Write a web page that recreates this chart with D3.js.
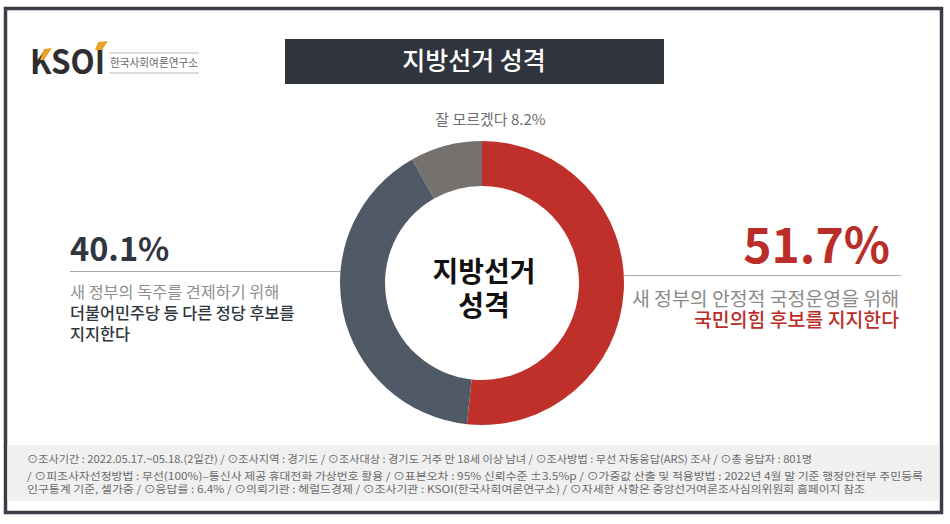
<!DOCTYPE html>
<html>
<head>
<meta charset="utf-8">
<script src="https://cdn.jsdelivr.net/npm/d3@7"></script>
<style>
html, body { margin: 0; padding: 0; background: #fff; }
svg { display: block; }
text { font-family: "Noto Sans CJK KR", "Noto Sans", sans-serif; }
</style>
</head>
<body>
<svg id="chart" width="950" height="524"></svg>
<script>
const labels = ["국민의힘 후보 지지", "다른 정당 후보 지지", "잘 모르겠다"];
const values = [51.7, 40.1, 8.2];
const colors = ["#c0302a", "#505a66", "#75716e"];

const footerLines = [
    "⊙조사기간 : 2022.05.17.~05.18.(2일간)  / ⊙조사지역 : 경기도 / ⊙조사대상 : 경기도 거주 만 18세 이상 남녀 / ⊙조사방법 : 무선 자동응답(ARS)  조사 / ⊙총 응답자 : 801명",
    "/ ⊙피조사자선정방법 : 무선(100%)–통신사 제공 휴대전화 가상번호 활용 / ⊙표본오차 : 95% 신뢰수준 ±3.5%p / ⊙가중값 산출 및 적용방법 : 2022년 4월 말 기준 행정안전부 주민등록",
    "인구통계 기준, 셀가중 / ⊙응답률 : 6.4% / ⊙의뢰기관 : 헤럴드경제  / ⊙조사기관 : KSOI(한국사회여론연구소) / ⊙자세한 사항은 중앙선거여론조사심의위원회 홈페이지 참조"
];
const footerWidths = [785, 896, 838];

const svg = d3.select("#chart");

// frame and footer band
svg.append("rect").attr("x", 5.5).attr("y", 8.5).attr("width", 936).attr("height", 504)
    .attr("fill", "#fff").attr("stroke", "#3a3f47").attr("stroke-width", 3.5);
svg.append("rect").attr("x", 7.5).attr("y", 445).attr("width", 932).attr("height", 56).attr("fill", "#f0f0f0");

// logo
const logo = svg.append("g");
logo.append("text").attr("x", 30).attr("y", 74).attr("font-size", 33).attr("font-weight", 700)
    .attr("fill", "#2e2e30").attr("textLength", 75).attr("lengthAdjust", "spacingAndGlyphs").text("KSOI");
logo.append("path").attr("d", "M44 49 L52 48 L44 60 L40 60 Z").attr("fill", "#e8a32e");
logo.append("path").attr("d", "M98 42 L108 41 L102 50 L95 50 Z").attr("fill", "#e8a32e");
logo.append("line").attr("x1", 109).attr("x2", 199).attr("y1", 53).attr("y2", 53).attr("stroke", "#bbb");
logo.append("line").attr("x1", 109).attr("x2", 199).attr("y1", 73).attr("y2", 73).attr("stroke", "#bbb");
logo.append("text").attr("x", 110).attr("y", 67).attr("font-size", 11).attr("fill", "#666")
    .attr("textLength", 88).attr("lengthAdjust", "spacingAndGlyphs").text("한국사회여론연구소");

// title
svg.append("rect").attr("x", 285).attr("y", 39).attr("width", 379).attr("height", 45).attr("fill", "#2f343d");
svg.append("text").attr("x", 474).attr("y", 70).attr("text-anchor", "middle").attr("font-size", 25)
    .attr("font-weight", 500).attr("fill", "#fff").text("지방선거 성격");

// guide lines either side of the donut
svg.append("line").attr("x1", 70).attr("x2", 345).attr("y1", 271.5).attr("y2", 271.5).attr("stroke", "#aaa").attr("stroke-width", 1.2);
svg.append("line").attr("x1", 622).attr("x2", 901).attr("y1", 275.5).attr("y2", 275.5).attr("stroke", "#aaa").attr("stroke-width", 1.2);

// donut
const pie = d3.pie().sort(null).value(d => d);
const arc = d3.arc().innerRadius(97).outerRadius(142);
svg.append("g").attr("transform", "translate(482,283)")
    .selectAll("path")
    .data(pie(values))
    .enter()
    .append("path")
    .attr("d", arc)
    .attr("fill", (d, i) => colors[i])
    .append("title").text((d, i) => labels[i]);

svg.append("text").attr("x", 484).attr("y", 282).attr("text-anchor", "middle").attr("font-size", 28)
    .attr("font-weight", 700).attr("fill", "#111").text("지방선거");
svg.append("text").attr("x", 484).attr("y", 316).attr("text-anchor", "middle").attr("font-size", 28)
    .attr("font-weight", 700).attr("fill", "#111").text("성격");

// unknown label
svg.append("text").attr("x", 490.5).attr("y", 125).attr("text-anchor", "middle").attr("font-size", 15)
    .attr("fill", "#6e6e6e").text(`잘 모르겠다 ${values[2]}%`);

// left callout
svg.append("text").attr("x", 70).attr("y", 261).attr("font-size", 32.5).attr("font-weight", 700)
    .attr("font-family", "'Noto Sans', sans-serif").attr("fill", "#2f3640").text(`${values[1]}%`);
svg.append("text").attr("x", 70).attr("y", 298).attr("font-size", 16.3).attr("fill", "#8f8f8f").text("새 정부의 독주를 견제하기 위해");
svg.append("text").attr("x", 70).attr("y", 319).attr("font-size", 16.3).attr("font-weight", 500).attr("fill", "#2f3640").text("더불어민주당 등 다른 정당 후보를");
svg.append("text").attr("x", 70).attr("y", 340).attr("font-size", 16.3).attr("font-weight", 500).attr("fill", "#2f3640").text("지지한다");

// right callout
svg.append("text").attr("x", 890).attr("y", 263).attr("text-anchor", "end").attr("font-size", 48).attr("font-weight", 700)
    .attr("font-family", "'Noto Sans', sans-serif").attr("fill", "#bb2d28").text(`${values[0]}%`);
svg.append("text").attr("x", 899).attr("y", 306).attr("text-anchor", "end").attr("font-size", 19.4).attr("fill", "#8a8a8a").text("새 정부의 안정적 국정운영을 위해");
svg.append("text").attr("x", 899).attr("y", 327).attr("text-anchor", "end").attr("font-size", 19.4).attr("font-weight", 500).attr("fill", "#bb2d28").text("국민의힘 후보를 지지한다");

// footer notes
svg.append("g").selectAll("text")
    .data(footerLines)
    .enter()
    .append("text")
    .attr("x", 27)
    .attr("y", (d, i) => [463, 480, 493][i])
    .attr("font-size", 10.5)
    .attr("fill", "#6b6b6b")
    .attr("textLength", (d, i) => footerWidths[i])
    .attr("lengthAdjust", "spacingAndGlyphs")
    .text(d => d);
</script>
</body>
</html>
